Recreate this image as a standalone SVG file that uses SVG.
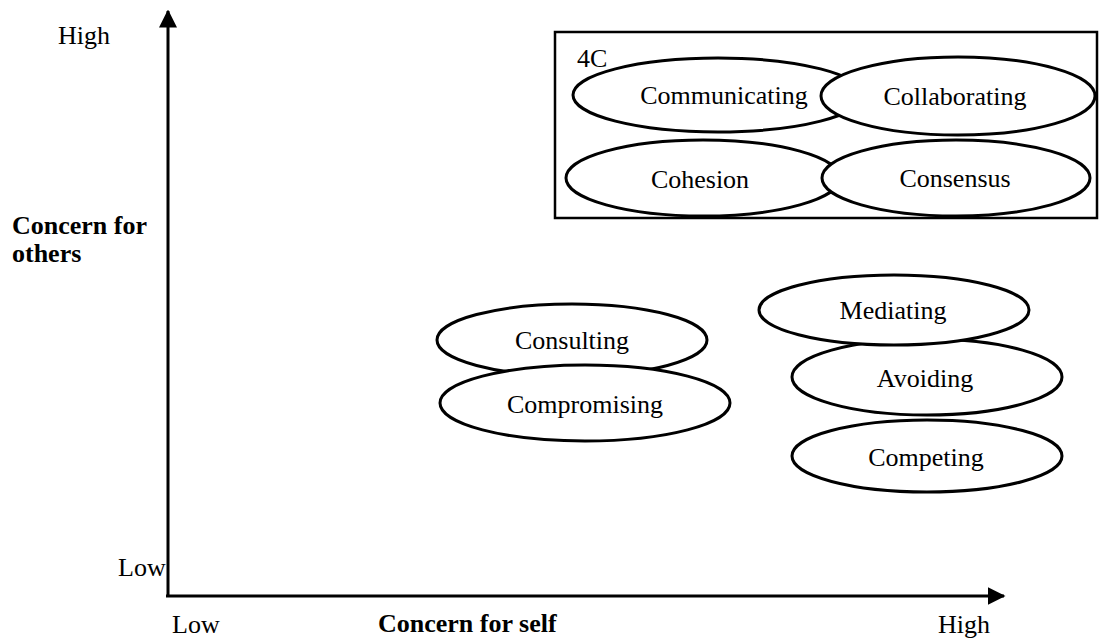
<svg xmlns="http://www.w3.org/2000/svg" width="1109" height="638" viewBox="0 0 1109 638">
  <style>
    .lbl { font-family: "Liberation Serif", "Times New Roman", serif; font-size: 26px; fill: #000; }
    .bold { font-weight: bold; }
    .mid { text-anchor: middle; }
    .node ellipse { fill: #fff; stroke: #000; stroke-width: 3; }
    .axis { stroke: #000; stroke-width: 3; fill: none; }
    .frame { fill: none; stroke: #000; stroke-width: 2.5; }
  </style>
  <defs>
    <marker id="arrowhead" markerWidth="6" markerHeight="6" refX="5.5" refY="3" orient="auto" markerUnits="strokeWidth">
      <path d="M0,0 L6,3 L0,6 Z" fill="#000"/>
    </marker>
  </defs>
  <rect width="1109" height="638" fill="#fff"/>

  <!-- axes -->
  <g id="connectors">
    <line class="axis" x1="168" y1="596" x2="168" y2="11" marker-end="url(#arrowhead)"/>
    <line class="axis" x1="166" y1="596" x2="1004" y2="596" marker-end="url(#arrowhead)"/>
  </g>

  <!-- axis labels -->
  <g id="axis-labels">
    <text class="lbl" x="58" y="44">High</text>
    <text class="lbl bold" x="12" y="234">Concern for</text>
    <text class="lbl bold" x="12" y="262">others</text>
    <text class="lbl" x="118" y="576">Low</text>
    <text class="lbl" x="172" y="633">Low</text>
    <text class="lbl bold" x="378" y="632">Concern for self</text>
    <text class="lbl" x="938" y="633">High</text>
  </g>

  <!-- 4C group frame -->
  <g id="group-4c">
    <rect class="frame" x="555" y="32" width="542" height="186"/>
    <text class="lbl" x="577" y="67">4C</text>
  </g>

  <g id="communicating" class="node">
    <ellipse cx="718" cy="95" rx="145" ry="37"/>
    <text class="lbl mid" x="724" y="104">Communicating</text>
  </g>
  <g id="collaborating" class="node">
    <ellipse cx="958" cy="96" rx="137" ry="39"/>
    <text class="lbl mid" x="955" y="105">Collaborating</text>
  </g>
  <g id="cohesion" class="node">
    <ellipse cx="703" cy="178" rx="137" ry="38"/>
    <text class="lbl mid" x="700" y="188">Cohesion</text>
  </g>
  <g id="consensus" class="node">
    <ellipse cx="956" cy="178" rx="134" ry="38"/>
    <text class="lbl mid" x="955" y="187">Consensus</text>
  </g>

  <g id="consulting" class="node">
    <ellipse cx="572" cy="340" rx="135" ry="36"/>
    <text class="lbl mid" x="572" y="349">Consulting</text>
  </g>
  <g id="compromising" class="node">
    <ellipse cx="585" cy="403" rx="145" ry="38"/>
    <text class="lbl mid" x="585" y="413">Compromising</text>
  </g>

  <g id="competing" class="node">
    <ellipse cx="927" cy="456" rx="135" ry="36"/>
    <text class="lbl mid" x="926" y="466">Competing</text>
  </g>
  <g id="avoiding" class="node">
    <ellipse cx="927" cy="377" rx="135" ry="38"/>
    <text class="lbl mid" x="925" y="387">Avoiding</text>
  </g>
  <g id="mediating" class="node">
    <ellipse cx="894" cy="310" rx="135" ry="35"/>
    <text class="lbl mid" x="893" y="319">Mediating</text>
  </g>
</svg>
